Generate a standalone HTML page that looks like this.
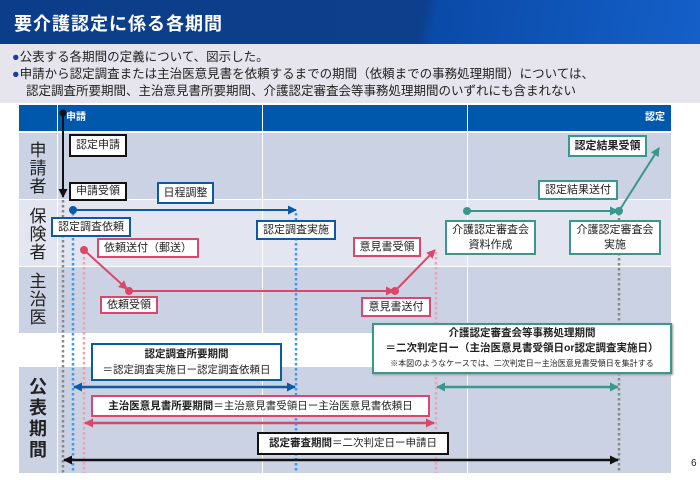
<!DOCTYPE html>
<html><head><meta charset="utf-8"><style>
*{margin:0;padding:0;box-sizing:border-box}
body{width:700px;height:480px;background:#fff;position:relative;overflow:hidden;font-family:"Liberation Sans","Noto Sans CJK JP",sans-serif;color:#222}
.a{position:absolute}
.bx{position:absolute;background:#fff;border:2px solid;font-size:11px;display:flex;align-items:center;justify-content:center;text-align:center;line-height:15px;white-space:nowrap}
.k{border-color:#111}.b{border-color:#0b5aa6}.p{border-color:#d9486b}.t{border-color:#3a978c}
.lab{position:absolute;left:19px;width:38px;font-size:17px;text-align:center;line-height:18px;color:#222}
</style></head><body>
<div class="a" style="left:0;top:0;width:700px;height:44px;background:linear-gradient(100deg,#0b3d8a 0%,#0d3f8c 60%,#0a4aa8 62%,#1460c8 100%)"></div>
<div class="a" style="left:14px;top:10px;font-size:18px;font-weight:bold;color:#fff;letter-spacing:1px">要介護認定に係る各期間</div>
<div class="a" style="left:0;top:44px;width:700px;height:59px;background:#e6e5ee"></div>
<div class="a" style="left:12px;top:49px;font-size:12.5px;line-height:17px">
<div><span style="color:#1c3d9a">●</span>公表する各期間の定義について、図示した。</div>
<div><span style="color:#1c3d9a">●</span>申請から認定調査または主治医意見書を依頼するまでの期間（依頼までの事務処理期間）については、</div>
<div style="padding-left:14px">認定調査所要期間、主治意見書所要期間、介護認定審査会等事務処理期間のいずれにも含まれない</div></div>
<div class="a" style="left:19px;top:105px;width:652px;height:26px;background:#0058ad"></div>
<div class="a" style="left:66px;top:108px;font-size:10px;font-weight:bold;color:#fff">申請</div>
<div class="a" style="left:645px;top:108px;font-size:10px;font-weight:bold;color:#fff">認定</div>
<div class="a" style="left:19px;top:133px;width:652px;height:66px;background:#cbd2e3"></div>
<div class="a" style="left:19px;top:200px;width:652px;height:66px;background:#e3e6f0"></div>
<div class="a" style="left:19px;top:267px;width:652px;height:66px;background:#cbd2e3"></div>
<div class="a" style="left:19px;top:367px;width:652px;height:106px;background:#cbd2e3"></div>
<div class="a" style="left:57px;top:105px;width:1px;height:368px;background:#fff"></div>
<div class="a" style="left:262px;top:105px;width:1px;height:368px;background:#fff"></div>
<div class="a" style="left:467px;top:105px;width:1px;height:368px;background:#fff"></div>
<div class="lab" style="top:142px">申<br>請<br>者</div>
<div class="lab" style="top:208px">保<br>険<br>者</div>
<div class="lab" style="top:273px">主<br>治<br>医</div>
<div class="lab" style="top:377px;font-weight:bold;font-size:18px;line-height:21px">公<br>表<br>期<br>間</div>
<svg class="a" style="left:0;top:0" width="700" height="480">
<defs>
<marker id="mk" markerUnits="userSpaceOnUse" markerWidth="9" markerHeight="9" refX="8" refY="4.5" orient="auto"><path d="M0,0L9,4.5L0,9z" fill="#111"/></marker>
<marker id="mb" markerUnits="userSpaceOnUse" markerWidth="9" markerHeight="9" refX="8" refY="4.5" orient="auto"><path d="M0,0L9,4.5L0,9z" fill="#0b5aa6"/></marker>
<marker id="mp" markerUnits="userSpaceOnUse" markerWidth="9" markerHeight="9" refX="8" refY="4.5" orient="auto"><path d="M0,0L9,4.5L0,9z" fill="#d9486b"/></marker>
<marker id="mt" markerUnits="userSpaceOnUse" markerWidth="9" markerHeight="9" refX="8" refY="4.5" orient="auto"><path d="M0,0L9,4.5L0,9z" fill="#3a978c"/></marker>
<marker id="sk" markerUnits="userSpaceOnUse" markerWidth="9" markerHeight="9" refX="1" refY="4.5" orient="auto"><path d="M9,0L0,4.5L9,9z" fill="#111"/></marker>
<marker id="sb" markerUnits="userSpaceOnUse" markerWidth="9" markerHeight="9" refX="1" refY="4.5" orient="auto"><path d="M9,0L0,4.5L9,9z" fill="#0b5aa6"/></marker>
<marker id="sp" markerUnits="userSpaceOnUse" markerWidth="9" markerHeight="9" refX="1" refY="4.5" orient="auto"><path d="M9,0L0,4.5L9,9z" fill="#d9486b"/></marker>
<marker id="st" markerUnits="userSpaceOnUse" markerWidth="9" markerHeight="9" refX="1" refY="4.5" orient="auto"><path d="M9,0L0,4.5L9,9z" fill="#3a978c"/></marker>
</defs>
<g stroke-width="2.5" stroke-dasharray="2.5,2.5">
<line x1="63" y1="200" x2="63" y2="473" stroke="#888"/>
<line x1="73" y1="213" x2="73" y2="473" stroke="#3a9af0"/>
<line x1="84" y1="252" x2="84" y2="473" stroke="#f0a0b4"/>
<line x1="296" y1="213" x2="296" y2="473" stroke="#3a9af0"/>
<line x1="436" y1="252" x2="436" y2="473" stroke="#f0a0b4"/>
<line x1="619" y1="213" x2="619" y2="473" stroke="#888"/>
</g>
<line x1="63" y1="113" x2="63" y2="197" stroke="#111" stroke-width="2" marker-end="url(#mk)"/>
<circle cx="63" cy="113" r="3.5" fill="#111"/>
<line x1="73" y1="210" x2="296" y2="210" stroke="#0b5aa6" stroke-width="2" marker-end="url(#mb)"/>
<circle cx="73" cy="210" r="4" fill="#0b5aa6"/>
<line x1="84" y1="250" x2="127" y2="289" stroke="#d9486b" stroke-width="2" marker-end="url(#mp)"/>
<circle cx="84" cy="250" r="4" fill="#d9486b"/>
<line x1="129" y1="291" x2="394" y2="291" stroke="#d9486b" stroke-width="2" marker-end="url(#mp)"/>
<circle cx="129" cy="291" r="4" fill="#d9486b"/><circle cx="395" cy="291" r="4" fill="#d9486b"/>
<line x1="395" y1="291" x2="435" y2="250" stroke="#d9486b" stroke-width="2" marker-end="url(#mp)"/>
<line x1="467" y1="211" x2="618" y2="211" stroke="#3a978c" stroke-width="2" marker-end="url(#mt)"/>
<circle cx="467" cy="211" r="4" fill="#3a978c"/><circle cx="619" cy="211" r="4" fill="#3a978c"/>
<line x1="619" y1="211" x2="659" y2="148" stroke="#3a978c" stroke-width="2" marker-end="url(#mt)"/>
<line x1="74" y1="387" x2="295" y2="387" stroke="#0b5aa6" stroke-width="2.5" marker-start="url(#sb)" marker-end="url(#mb)"/>
<line x1="85" y1="423" x2="434" y2="423" stroke="#d9486b" stroke-width="2.5" marker-start="url(#sp)" marker-end="url(#mp)"/>
<line x1="437" y1="387" x2="618" y2="387" stroke="#3a978c" stroke-width="2.5" marker-start="url(#st)" marker-end="url(#mt)"/>
<line x1="64" y1="460" x2="618" y2="460" stroke="#111" stroke-width="2.5" marker-start="url(#sk)" marker-end="url(#mk)"/>
</svg>
<div class="bx k" style="left:69px;top:134px;width:58px;height:23px">認定申請</div>
<div class="bx k" style="left:69px;top:182px;width:58px;height:19px">申請受領</div>
<div class="bx b" style="left:157px;top:182px;width:57px;height:22px">日程調整</div>
<div class="bx b" style="left:51px;top:217px;width:80px;height:20px">認定調査依頼</div>
<div class="bx b" style="left:256px;top:220px;width:80px;height:20px">認定調査実施</div>
<div class="bx p" style="left:97px;top:238px;width:102px;height:20px">依頼送付（郵送）</div>
<div class="bx p" style="left:100px;top:296px;width:58px;height:18px">依頼受領</div>
<div class="bx p" style="left:353px;top:237px;width:68px;height:20px">意見書受領</div>
<div class="bx p" style="left:361px;top:297px;width:70px;height:20px">意見書送付</div>
<div class="bx t" style="left:445px;top:220px;width:91px;height:35px">介護認定審査会<br>資料作成</div>
<div class="bx t" style="left:569px;top:220px;width:92px;height:35px">介護認定審査会<br>実施</div>
<div class="bx t" style="left:538px;top:180px;width:80px;height:20px">認定結果送付</div>
<div class="bx t" style="left:568px;top:135px;width:79px;height:22px;font-weight:bold">認定結果受領</div>
<div class="bx b" style="left:91px;top:343px;width:191px;height:38px;font-size:10.5px;line-height:16px"><div><b>認定調査所要期間</b><br>＝認定調査実施日ー認定調査依頼日</div></div>
<div class="bx p" style="left:91px;top:395px;width:339px;height:22px;font-size:10.5px"><b>主治医意見書所要期間</b>＝主治意見書受領日ー主治医意見書依頼日</div>
<div class="bx k" style="left:257px;top:432px;width:192px;height:23px;font-size:10.5px"><b>認定審査期間</b>＝二次判定日ー申請日</div>
<div class="bx t" style="left:372px;top:323px;width:300px;height:51px;font-size:10.5px;line-height:15px;box-shadow:1px 1px 2px #999"><div><b>介護認定審査会等事務処理期間</b><br><b>＝二次判定日ー（主治医意見書受領日or認定調査実施日）</b><br><span style="font-size:8px">※本図のようなケースでは、二次判定日ー主治医意見書受領日を集計する</span></div></div>
<div class="a" style="left:691px;top:458px;font-size:10px">6</div>
</body></html>
